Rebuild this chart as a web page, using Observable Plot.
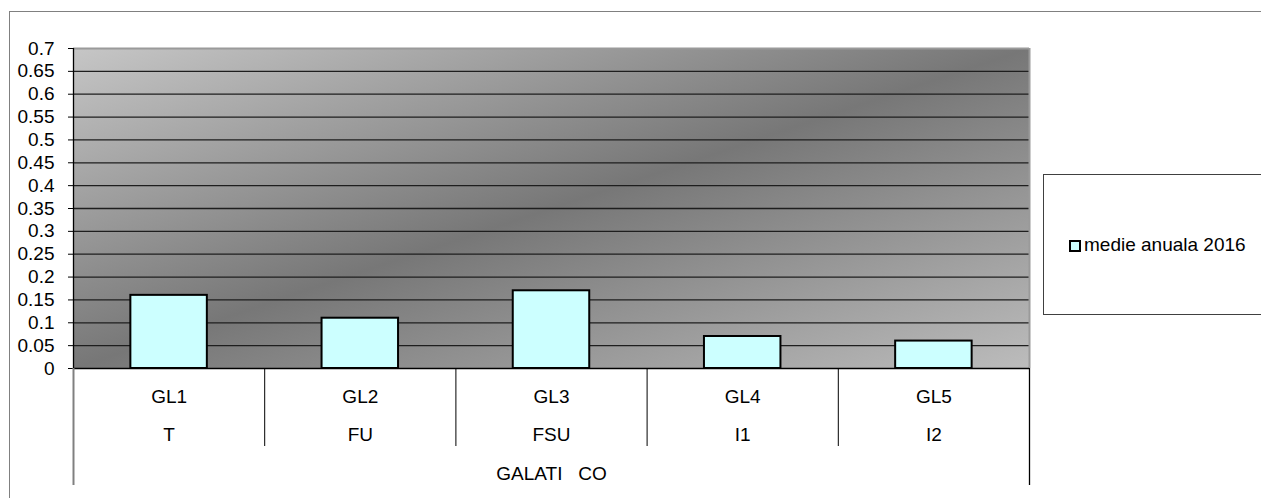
<!DOCTYPE html>
<html>
<head>
<meta charset="utf-8">
<script src="https://cdn.jsdelivr.net/npm/d3@7"></script>
<script src="https://cdn.jsdelivr.net/npm/@observablehq/plot@0.6"></script>
<style>
  html, body { margin: 0; padding: 0; background: #fff; overflow: hidden; }
  #wrap { position: relative; width: 1261px; height: 498px; overflow: hidden; }
  #outer { position: absolute; left: 9px; top: 11px; width: 1300px; height: 600px; border: 1.5px solid #808080; box-sizing: border-box; }
  #chart { position: absolute; left: 0; top: 0; }
  #chart svg text { font-family: "Liberation Sans", Arial, sans-serif; font-size: 19px; white-space: pre; fill: #000; }
  #legend { position: absolute; left: 1043px; top: 174px; width: 260px; height: 141px; border: 1px solid #404040; box-sizing: border-box; background: #fff;
            font-family: "Liberation Sans", Arial, sans-serif; font-size: 19px; color: #000; }
  #legend .sw { position: absolute; left: 25px; top: 65px; width: 12px; height: 12px; background: #ccffff; border: 2px solid #000; box-sizing: border-box; }
  #legend .lb { position: absolute; left: 40px; top: 59px; white-space: nowrap; }
</style>
</head>
<body>
<div id="wrap">
  <div id="outer"></div>
  <div id="chart"></div>
  <div id="legend"><span class="sw"></span><span class="lb"></span></div>
</div>
<script>
// ---- data ----
const stations = ["GL1", "GL2", "GL3", "GL4", "GL5"];
const types = ["T", "FU", "FSU", "I1", "I2"];
const values = [0.16, 0.11, 0.17, 0.07, 0.06];
const groupLabel = "GALATI   CO";
const seriesName = "medie anuala 2016";
const yTicks = [0, 0.05, 0.1, 0.15, 0.2, 0.25, 0.3, 0.35, 0.4, 0.45, 0.5, 0.55, 0.6, 0.65, 0.7];

const data = stations.map((s, i) => ({station: s, type: types[i], value: values[i], i}));
const bounds = d3.range(stations.length + 1);

const chart = Plot.plot({
  width: 1261,
  height: 498,
  marginLeft: 73,
  marginRight: 232,
  marginTop: 48,
  marginBottom: 130,
  style: {background: "transparent", overflow: "visible", fontFamily: "Liberation Sans, Arial, sans-serif", fontSize: "19px", color: "#000"},
  x: {domain: [0, stations.length], axis: null},
  y: {domain: [0, 0.7], ticks: yTicks, tickSize: 5, tickPadding: 14,
      tickFormat: d => String(Math.round(d * 100) / 100), label: null},
  marks: [
    Plot.frame({fill: "url(#bgGrad)", stroke: "none"}),
    Plot.ruleY(yTicks.filter(v => v > 0 && v < 0.7), {stroke: "#1e1e1e", strokeWidth: 1.3}),
    Plot.ruleY([0.7], {stroke: "#9a9a9a", strokeWidth: 2}),
    Plot.ruleX([stations.length], {stroke: "#9a9a9a", strokeWidth: 2}),
    Plot.rectY(data, {x1: d => d.i + 0.3, x2: d => d.i + 0.7, y: "value", fill: "#ccffff", stroke: "#000", strokeWidth: 2}),
    Plot.ruleY([0], {stroke: "#000", strokeWidth: 1.3}),
    Plot.ruleX([0], {stroke: "#000", strokeWidth: 1.3}),
    // category separators below the axis
    Plot.ruleX(bounds.filter(b => b > 0 && b < stations.length), {stroke: "#000", strokeWidth: 1, insetTop: 320, insetBottom: -78}),
    Plot.ruleX([0], {stroke: "#808080", strokeWidth: 2, insetTop: 320, insetBottom: -117}),
    Plot.ruleX([stations.length], {stroke: "#000", strokeWidth: 1.3, insetTop: 320, insetBottom: -117}),
    Plot.text(data, {x: d => d.i + 0.5, text: "station", frameAnchor: "bottom", lineAnchor: "bottom", dy: 34}),
    Plot.text(data, {x: d => d.i + 0.5, text: "type", frameAnchor: "bottom", lineAnchor: "bottom", dy: 72}),
    Plot.text([groupLabel], {x: stations.length / 2, text: d => d, frameAnchor: "bottom", lineAnchor: "bottom", dy: 111})
  ]
});

d3.select(chart).insert("defs", ":first-child").html(`
  <linearGradient id="bgGrad" x1="0" y1="0" x2="1" y2="1" gradientUnits="objectBoundingBox">
    <stop offset="0" stop-color="#c6c6c6"/>
    <stop offset="0.5" stop-color="#777777"/>
    <stop offset="1" stop-color="#bcbcbc"/>
  </linearGradient>`);

document.getElementById("chart").appendChild(chart);
document.querySelector("#legend .lb").textContent = seriesName;
</script>
</body>
</html>
